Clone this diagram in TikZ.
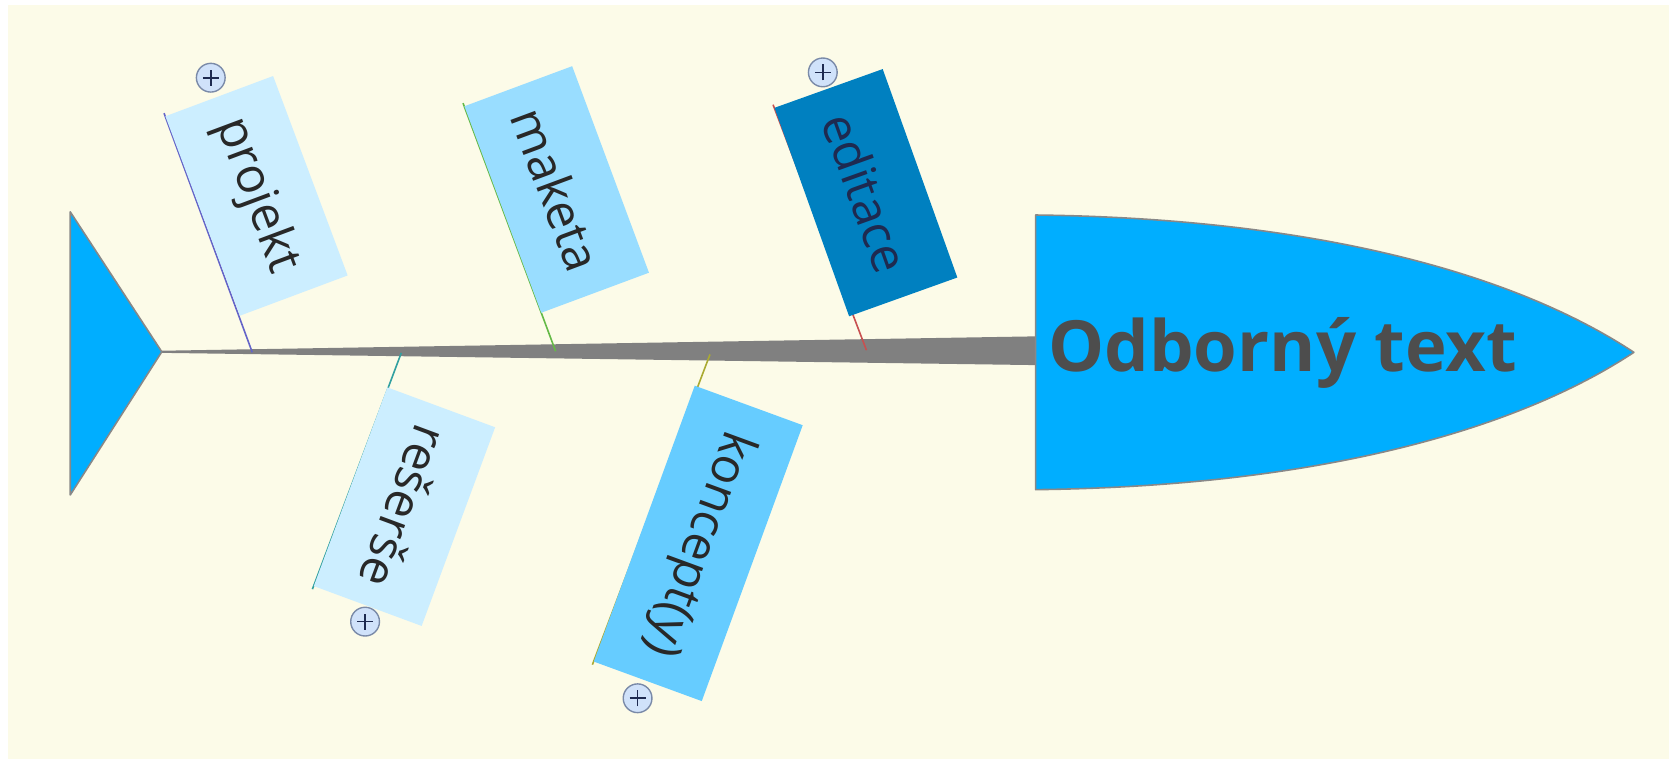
\documentclass[tikz,border=0pt]{standalone}
\usepackage{fontspec}
\usepackage{graphicx}
\setmainfont{Open Sans}
\definecolor{cream}{RGB}{252,251,232}
\definecolor{fishblue}{RGB}{0,174,255}
\definecolor{fishedge}{RGB}{136,136,136}
\definecolor{spinegray}{RGB}{128,128,128}
\definecolor{headtext}{RGB}{77,77,77}
\definecolor{labeltext}{RGB}{40,40,40}
\definecolor{boxlight}{RGB}{204,238,255}
\definecolor{boxmid}{RGB}{153,221,255}
\definecolor{boxdark}{RGB}{0,128,192}
\definecolor{boxsky}{RGB}{102,204,255}
\definecolor{lineproj}{RGB}{100,100,200}
\definecolor{linemak}{RGB}{100,185,70}
\definecolor{lineedit}{RGB}{200,80,80}
\definecolor{lineres}{RGB}{50,160,160}
\definecolor{linekon}{RGB}{170,170,50}
\definecolor{plusfill}{RGB}{208,226,250}
\definecolor{plusborder}{RGB}{122,138,168}
\definecolor{plusink}{RGB}{30,42,80}
\pgfdeclarelayer{back}
\pgfdeclarelayer{ties}
\pgfsetlayers{back,ties,main}
\begin{document}
\begin{tikzpicture}[x=1pt,y=-1pt,
  bonebox/.style={inner sep=0pt, minimum height=108pt, text=labeltext,
    font=\fontsize{46}{46}\selectfont},
  bonetie/.style={line width=1.5pt, shorten >=-3pt},
  pluscirc/.style={circle, draw=plusborder, fill=plusfill, line width=1.3pt,
    minimum size=27pt, inner sep=0pt,
    path picture={\draw[plusink, line width=1.6pt]
      ([xshift=-7.5pt]path picture bounding box.center) -- ([xshift=7.5pt]path picture bounding box.center)
      ([yshift=-7.5pt]path picture bounding box.center) -- ([yshift=7.5pt]path picture bounding box.center);}},
  fishpart/.style={fill=fishblue, draw=fishedge, line width=1.5pt, line join=round}
]
\useasboundingbox (0,0) rectangle (1568,713);
\begin{pgfonlayer}{back}
\fill[white] (0,0) rectangle (1568,713);
\fill[cream] (7.5,4.7) rectangle (1568,713);
% spine
\fill[spinegray] (152,329.5) -- (973,316) -- (973,343) -- (152,331.5) -- cycle;
\end{pgfonlayer}

% tail
\path[fishpart] (66,199) -- (152,330.5) -- (66,465) -- cycle;
% head
\path[fishpart] (973,202) .. controls (1230,205) and (1420,255) .. (1535,331)
  .. controls (1420,407) and (1230,457) .. (973,460) -- cycle;
\node[anchor=base, text=headtext, inner sep=0pt] (head) at (1205,349)
  {\resizebox{440pt}{!}{\bfseries Odborný text}};

% spine attachment points
\coordinate (spproj) at (237,331);
\coordinate (spmak) at (522,330);
\coordinate (spedit) at (814,329);
\coordinate (spres) at (377,331.5);
\coordinate (spkon) at (667,333);

% bone boxes
\node[bonebox, fill=boxlight, minimum width=200pt, rotate=-69.5] (projekt) at (241,184) {projekt};
\node[bonebox, fill=boxmid, minimum width=207pt, rotate=-69.6] (maketa) at (523,178) {maketa};
\node[bonebox, fill=boxdark, minimum width=208pt, rotate=-70.3, text=plusink] (editace) at (813.5,181) {editace};
\node[bonebox, fill=boxlight, minimum width=199pt, rotate=-110.3] (reserse) at (380,476) {rešerše};
\node[bonebox, fill=boxsky, minimum width=276pt, rotate=-110.1] (koncept) at (656,510.5) {koncept(y)};

% ties (behind the boxes)
\begin{pgfonlayer}{ties}
\draw[bonetie, lineproj] (spproj) -- (projekt.south west);
\draw[bonetie, linemak] (spmak) -- (maketa.south west);
\draw[bonetie, lineedit] (spedit) -- (editace.south west);
\draw[bonetie, lineres] (spres) -- (reserse.south east);
\draw[bonetie, linekon] (spkon) -- (koncept.south east);
\end{pgfonlayer}

% expand markers
\node[pluscirc] (plproj) at (198,73) {};
\node[pluscirc] (pledit) at (773,68) {};
\node[pluscirc] (plres) at (343,584) {};
\node[pluscirc] (plkon) at (599,656) {};
\end{tikzpicture}
\end{document}
